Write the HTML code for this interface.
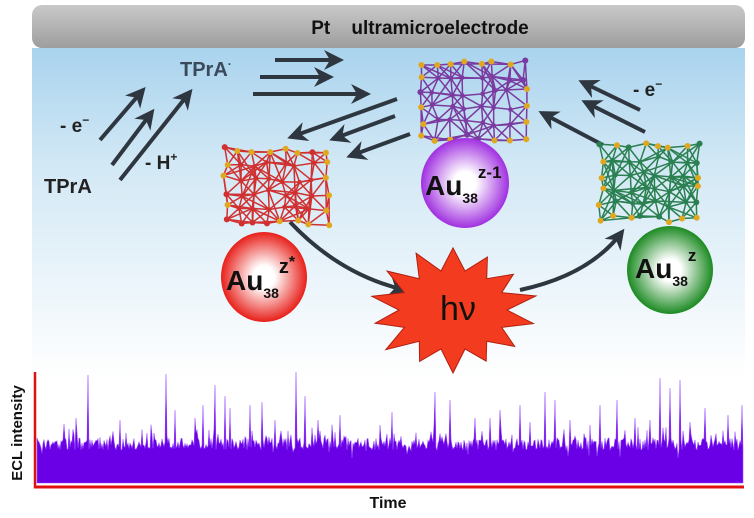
<!DOCTYPE html>
<html><head><meta charset="utf-8"><style>
html,body{margin:0;padding:0;background:#fff;overflow:hidden;}
svg{display:block;font-family:"Liberation Sans",sans-serif;}
</style></head><body>
<svg id="s" width="754" height="518" viewBox="0 0 754 518" xmlns="http://www.w3.org/2000/svg">
<defs>
<linearGradient id="bg" x1="0" y1="0" x2="0" y2="1">
<stop offset="0" stop-color="#a9d3ee"/><stop offset="0.35" stop-color="#d2e8f5"/><stop offset="1" stop-color="#ffffff"/></linearGradient>
<linearGradient id="bar" x1="0" y1="0" x2="0" y2="1">
<stop offset="0" stop-color="#c9c9c9"/><stop offset="1" stop-color="#9e9e9e"/></linearGradient>
<radialGradient id="gr" cx="0.5" cy="0.5" r="0.5"><stop offset="0.25" stop-color="#fff"/><stop offset="1" stop-color="#e8201a"/></radialGradient>
<radialGradient id="gp" cx="0.5" cy="0.5" r="0.5"><stop offset="0.25" stop-color="#fff"/><stop offset="1" stop-color="#a030e0"/></radialGradient>
<radialGradient id="gg" cx="0.5" cy="0.5" r="0.5"><stop offset="0.25" stop-color="#fff"/><stop offset="1" stop-color="#1c8a22"/></radialGradient>
<marker id="ah" viewBox="0 0 10 10" refX="8" refY="5" markerWidth="5" markerHeight="5" orient="auto"><path d="M0,0 L10,5 L0,10 L3,5 z" fill="#2e3640"/></marker>
</defs>
<rect x="32" y="48" width="713" height="330" fill="url(#bg)"/>
<rect x="32" y="5" width="713" height="43" rx="10" fill="url(#bar)"/>
<text x="420" y="34" font-size="19" font-weight="bold" text-anchor="middle" fill="#111" xml:space="preserve">Pt    ultramicroelectrode</text>

<g stroke="#2e3640" stroke-width="4" fill="none" marker-end="url(#ah)">
<line x1="275" y1="60" x2="340" y2="60"/>
<line x1="260" y1="77" x2="330" y2="77"/>
<line x1="253" y1="94" x2="367" y2="94"/>
<line x1="397" y1="99" x2="291" y2="137"/>
<line x1="395" y1="116" x2="333" y2="139"/>
<line x1="410" y1="134" x2="350" y2="156"/>
<line x1="100" y1="140" x2="143" y2="90"/>
<line x1="112" y1="165" x2="152" y2="112"/>
<line x1="120" y1="180" x2="190" y2="92"/>
<line x1="640" y1="110" x2="582" y2="82"/>
<line x1="645" y1="132" x2="585" y2="102"/>
<line x1="603" y1="145" x2="542" y2="113"/>
<path d="M290 222 Q340 275 405 290"/>
<path d="M520 290 Q590 275 622 232"/>
</g>
<text x="180" y="76" font-size="20" font-weight="bold" fill="#3a4a5a">TPrA<tspan font-size="12" dy="-8">·</tspan></text>
<text x="60" y="132" font-size="19" font-weight="bold" fill="#222">- e<tspan font-size="12" dy="-8">−</tspan></text>
<text x="44" y="193" font-size="20" font-weight="bold" fill="#222">TPrA</text>
<text x="145" y="169" font-size="19" font-weight="bold" fill="#222">- H<tspan font-size="12" dy="-8">+</tspan></text>
<text x="633" y="96" font-size="19" font-weight="bold" fill="#222">- e<tspan font-size="12" dy="-8">−</tspan></text>

<g id="clusters"></g>

<ellipse cx="465" cy="183" rx="44" ry="45" fill="url(#gp)"/>
<ellipse cx="264" cy="277" rx="43" ry="45" fill="url(#gr)"/>
<ellipse cx="670" cy="270" rx="43" ry="44" fill="url(#gg)"/>
<g font-weight="bold" fill="#111">
<text x="425" y="195" font-size="28">Au<tspan font-size="14" dy="8">38</tspan><tspan font-size="17" dy="-25">z-1</tspan></text>
<text x="226" y="290" font-size="28">Au<tspan font-size="14" dy="8">38</tspan><tspan font-size="20" dy="-25">z</tspan><tspan font-size="16" dy="-6">*</tspan></text>
<text x="635" y="278" font-size="28">Au<tspan font-size="14" dy="8">38</tspan><tspan font-size="17" dy="-25">z</tspan></text>
</g>
<polygon id="star" fill="#f23b1f" stroke="#b02010" stroke-width="1"/>
<text x="458" y="320" font-size="34" text-anchor="middle" fill="#111">hν</text>

<path id="sig" fill="#6a00e6" stroke="#9a50ff" stroke-width="0.6"/>
<line x1="35" y1="372" x2="35" y2="488" stroke="#e01010" stroke-width="2.5"/>
<line x1="34" y1="487" x2="744" y2="487" stroke="#e01010" stroke-width="3"/>
<text x="388" y="508" font-size="16" font-weight="bold" text-anchor="middle" fill="#111">Time</text>
<text transform="translate(22,433) rotate(-90)" font-size="15" font-weight="bold" fill="#111" text-anchor="middle">ECL intensity</text>
</svg>
<script>
var seed=7;function r(){seed=(seed*16807)%2147483647;return seed/2147483647;}
var d="M37,483";
var spikes={88:375,166:374,296:372,76:418,215:385,225:396,262:402,250:405,230:408,305:396,435:392,545:392,555:400,600:405,617:400,660:378,670:388,680:380,705:408,728:415,742:405,195:418,340:415,392:412,450:400,490:418,500:410,520:405,570:420,650:420,175:410,120:420,203:405,275:420,318:420,380:425,475:418,530:422,590:425,635:418,690:422};
for(var x=37;x<=743;x+=1){var y=438+r()*12-(r()<0.15?r()*16:0)+(r()<0.08?r()*10:0);if(spikes[x])y=spikes[x];d+=" L"+x+","+y.toFixed(1);}
d+=" L743,483 Z";document.getElementById("sig").setAttribute("d",d);
var pts=[],cx=453,cy=310,n=14;for(var i=0;i<2*n;i++){var a=i*Math.PI/n-Math.PI/2;var R=i%2?40:(55+r()*10);pts.push((cx+R*Math.cos(a)*1.35).toFixed(1)+","+(cy+R*Math.sin(a)).toFixed(1));}
document.getElementById("star").setAttribute("points",pts.join(" "));
var g=document.getElementById("clusters"),ns="http://www.w3.org/2000/svg";
function cl(x0,y0,w,h,col){var P=[],nx=8,ny=6;for(var i=0;i<nx;i++)for(var j=0;j<ny;j++)P.push([x0+i*w/(nx-1)+(r()-0.5)*7,y0+j*h/(ny-1)+(r()-0.5)*7]);
for(var i=0;i<P.length;i++)for(var j=i+1;j<P.length;j++){var dx=P[i][0]-P[j][0],dy=P[i][1]-P[j][1];var dd=dx*dx+dy*dy;if(dd<520||(dd<1100&&r()<0.25)){var l=document.createElementNS(ns,"line");l.setAttribute("x1",P[i][0]);l.setAttribute("y1",P[i][1]);l.setAttribute("x2",P[j][0]);l.setAttribute("y2",P[j][1]);l.setAttribute("stroke",col);l.setAttribute("stroke-width","1.5");g.appendChild(l);}}
for(var i=0;i<P.length;i++){var edge=(i%ny==0||i%ny==ny-1||i<ny||i>=P.length-ny);var c=document.createElementNS(ns,"circle");c.setAttribute("cx",P[i][0]);c.setAttribute("cy",P[i][1]);c.setAttribute("r",edge?3:2.3);c.setAttribute("fill",edge&&r()<0.7?"#e0a820":col);g.appendChild(c);}}
cl(420,62,104,76,"#7a3aa0");cl(226,150,100,72,"#d03030");cl(602,145,96,74,"#2a8050");
</script>
</body></html>
